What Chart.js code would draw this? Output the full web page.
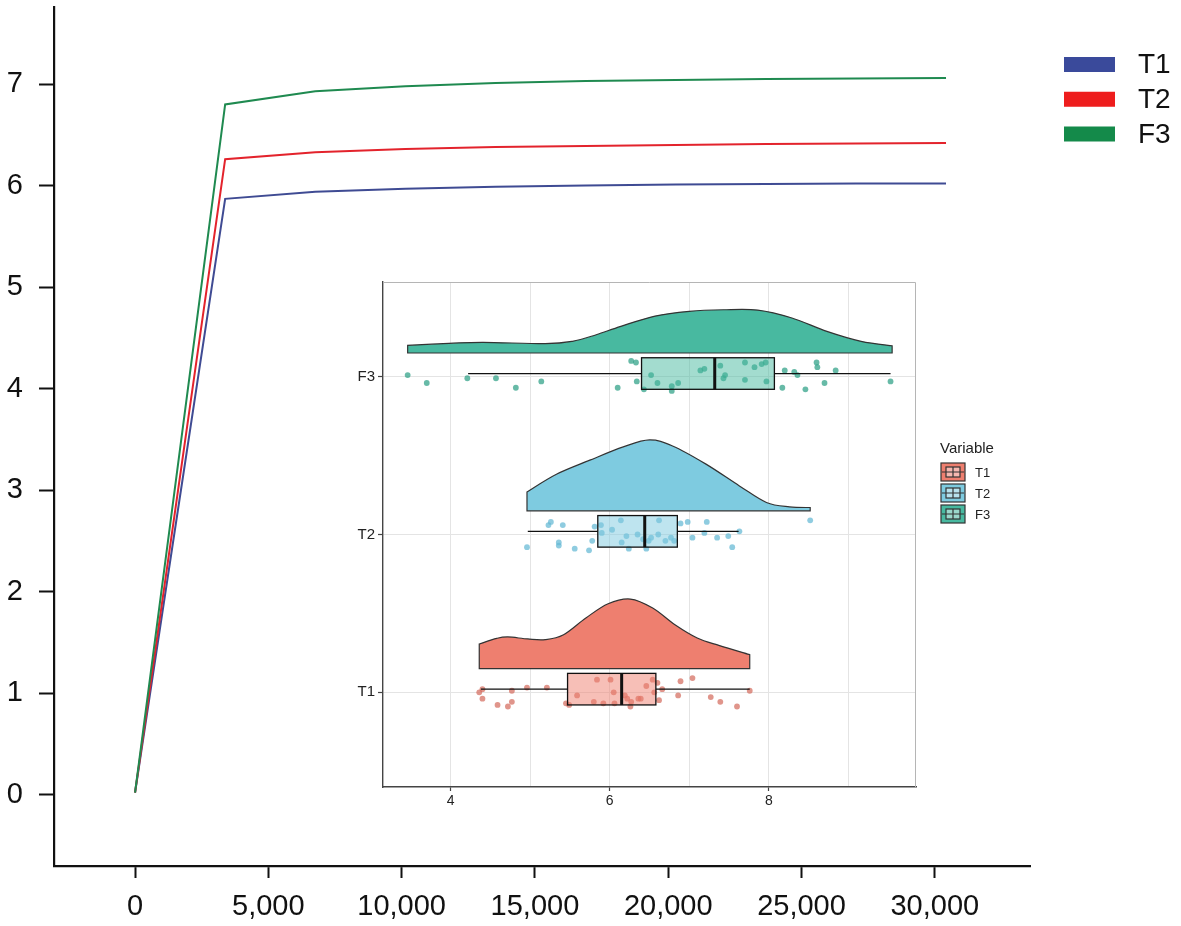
<!DOCTYPE html>
<html><head><meta charset="utf-8">
<script src="https://cdn.jsdelivr.net/npm/chart.js@4.4.1/dist/chart.umd.min.js"></script>
<style>
html,body{margin:0;padding:0;background:#fff;}
#wrap{position:relative;width:1181px;height:926px;overflow:hidden;}
#main{position:absolute;left:0;top:0;width:1181px;height:926px;}
#inset{position:absolute;left:330px;top:270px;width:720px;height:550px;}
</style></head><body>
<div id="wrap">
<canvas id="main" width="1181" height="926"></canvas>
<canvas id="inset" width="720" height="550"></canvas>
</div>
<script>
// ---------- main chart data (rarefaction curves) ----------
const seriesNames = ['T1', 'T2', 'F3'];
const sampleDepth = [0, 3380, 6760, 10140, 13520, 16900, 20280, 23660, 27040, 30420];
const t1Curve = [0.02, 5.87, 5.94, 5.97, 5.99, 6.00, 6.01, 6.015, 6.02, 6.02];
const t2Curve = [0.02, 6.26, 6.33, 6.36, 6.38, 6.39, 6.40, 6.41, 6.415, 6.42];
const f3Curve = [0.02, 6.80, 6.93, 6.98, 7.01, 7.03, 7.04, 7.05, 7.055, 7.06];
const xTickValues = [0, 5000, 10000, 15000, 20000, 25000, 30000];
const yTickValues = [0, 1, 2, 3, 4, 5, 6, 7];

// ---------- inset data (raincloud plot) ----------
const insetGroups = ['T1', 'T2', 'F3'];
const insetXTicks = [4, 5, 6, 7, 8, 9];
const insetXLabels = [4, 6, 8];
// box stats: [lower whisker, Q1, median, Q3, upper whisker]
const t1Box = [4.38, 5.47, 6.15, 6.58, 7.76];
const t2Box = [4.97, 5.85, 6.44, 6.85, 7.62];
const f3Box = [4.22, 6.40, 7.32, 8.07, 9.53];
// density outlines (value, height in category units)
const t1DensX = [4.36, 4.58, 4.72, 4.97, 5.19, 5.42, 5.70, 5.98, 6.26, 6.54, 6.82, 7.10, 7.38, 7.76];
const t1DensH = [0.156, 0.192, 0.201, 0.188, 0.184, 0.215, 0.321, 0.411, 0.441, 0.384, 0.278, 0.194, 0.146, 0.089];
const t2DensX = [4.96, 5.33, 5.75, 6.17, 6.50, 6.79, 7.21, 7.63, 7.97, 8.26, 8.52];
const t2DensH = [0.120, 0.232, 0.321, 0.405, 0.449, 0.411, 0.296, 0.158, 0.053, 0.025, 0.021];
const f3DensX = [3.46, 3.98, 4.41, 5.19, 5.53, 5.83, 6.14, 6.57, 7.00, 7.43, 7.86, 8.29, 8.73, 9.16, 9.55];
const f3DensH = [0.049, 0.061, 0.068, 0.059, 0.074, 0.116, 0.169, 0.234, 0.264, 0.274, 0.272, 0.222, 0.137, 0.074, 0.046];
// jittered raw points
const t1Values = [4.36,4.40,4.40,4.59,4.72,4.77,4.77,4.96,5.21,5.45,5.49,5.59,5.80,5.84,5.92,6.01,6.05,6.06,6.19,6.22,6.26,6.27,6.36,6.39,6.46,6.54,6.56,6.60,6.62,6.66,6.86,6.89,7.04,7.27,7.39,7.60,7.76];
const t1Jitter = [0.00,0.02,-0.04,-0.08,-0.09,-0.06,0.01,0.03,0.03,-0.07,-0.08,-0.02,-0.06,0.08,-0.07,0.08,0.00,-0.07,-0.02,-0.04,-0.09,-0.06,-0.04,-0.04,0.04,0.08,0.00,0.06,-0.05,0.02,-0.02,0.07,0.09,-0.03,-0.06,-0.09,0.01];
const t2Values = [4.96,5.23,5.26,5.36,5.36,5.41,5.56,5.74,5.78,5.81,5.89,5.90,6.03,6.14,6.15,6.21,6.24,6.35,6.42,6.46,6.49,6.52,6.61,6.62,6.70,6.77,6.81,6.89,6.98,7.04,7.19,7.22,7.35,7.49,7.54,7.63,8.52];
const t2Jitter = [-0.08,0.06,0.08,-0.05,-0.07,0.06,-0.09,-0.10,-0.04,0.05,0.06,0.01,0.03,0.09,-0.05,-0.01,-0.09,0.00,-0.03,-0.09,-0.04,-0.02,0.00,0.09,-0.04,-0.02,-0.04,0.07,0.08,-0.02,0.01,0.08,-0.02,-0.01,-0.08,0.02,0.09];
const f3Values = [3.46,3.70,4.21,4.57,4.82,5.14,6.10,6.27,6.33,6.34,6.43,6.52,6.60,6.78,6.78,6.86,7.14,7.19,7.39,7.43,7.45,7.70,7.70,7.82,7.91,7.96,7.97,8.17,8.20,8.32,8.36,8.46,8.60,8.61,8.70,8.84,9.53];
const f3Jitter = [0.01,-0.04,-0.01,-0.01,-0.07,-0.03,-0.07,0.10,0.09,-0.03,-0.08,0.01,-0.04,-0.06,-0.09,-0.04,0.04,0.05,0.07,-0.01,0.01,0.09,-0.02,0.06,0.08,0.09,-0.03,-0.07,0.04,0.03,0.01,-0.08,0.09,0.06,-0.04,0.04,-0.03];

// ---------- styles ----------
const FONT = '"Liberation Sans", Arial, sans-serif';
const lineColors = ['#3f4b93', '#e3232c', '#1f8a50'];
const legendColors = ['#3a4a9b', '#ee1d1d', '#148a4a'];
const densFill = ['#ee7f6f', '#7ecbe0', '#48b9a0'];
const boxFill = ['rgba(239,128,112,0.5)', 'rgba(126,202,224,0.5)', 'rgba(72,185,160,0.5)'];
const pointColors = ['rgba(212,108,94,0.72)', 'rgba(100,185,212,0.72)', 'rgba(45,160,133,0.72)'];

function noPadV(s) { s.paddingTop = 0; s.paddingBottom = 0; }
function noPadH(s) { s.paddingLeft = 0; s.paddingRight = 0; }

// ---------- main chart ----------
const curves = [t1Curve, t2Curve, f3Curve];
const mainLegend = {
  id: 'mainLegend',
  afterDraw(chart) {
    const ctx = chart.ctx, ca = chart.chartArea;
    ctx.save();
    ctx.font = '28px ' + FONT;
    ctx.textBaseline = 'middle';
    ctx.textAlign = 'left';
    seriesNames.forEach((n, i) => {
      const cy = 64.5 + i * 34.75;
      ctx.fillStyle = legendColors[i];
      ctx.fillRect(ca.right + 34, cy - 7.5, 51, 15);
      ctx.fillStyle = '#111';
      ctx.fillText(n, ca.right + 108, cy + 1);
    });
    ctx.restore();
  }
};

new Chart(document.getElementById('main'), {
  type: 'line',
  data: {
    datasets: seriesNames.map((n, i) => ({
      label: n,
      data: sampleDepth.map((x, j) => ({ x: x, y: curves[i][j] })),
      borderColor: lineColors[i],
      backgroundColor: legendColors[i],
      borderWidth: 2,
      pointRadius: 0,
      tension: 0,
      fill: false,
      order: 2 - i
    }))
  },
  options: {
    responsive: false,
    animation: false,
    devicePixelRatio: 1,
    layout: { padding: { left: 0, top: 7, right: 151, bottom: 0 } },
    plugins: { legend: { display: false }, tooltip: { enabled: false } },
    scales: {
      x: {
        type: 'linear', min: -3040, max: 33570,
        afterBuildTicks: s => { s.ticks = xTickValues.map(v => ({ value: v })); },
        afterFit: s => { s.height = 60; noPadH(s); },
        ticks: { font: { family: FONT, size: 29 }, color: '#111', padding: 12, maxRotation: 0, autoSkip: false,
          callback: v => Number(v).toLocaleString('en-US') },
        grid: { display: true, drawOnChartArea: false, drawTicks: true, tickLength: 12, tickColor: '#111', tickWidth: 2 },
        border: { display: true, color: '#111', width: 2.2 }
      },
      y: {
        type: 'linear', min: -0.704, max: 7.76,
        afterBuildTicks: s => { s.ticks = yTickValues.map(v => ({ value: v })); },
        afterFit: s => { s.width = 54; noPadV(s); },
        ticks: { font: { family: FONT, size: 29 }, color: '#111', padding: 16, autoSkip: false,
          callback: v => String(v) },
        grid: { display: true, drawOnChartArea: false, drawTicks: true, tickLength: 15, tickColor: '#111', tickWidth: 2 },
        border: { display: true, color: '#111', width: 2.2 }
      }
    }
  },
  plugins: [mainLegend]
});

// ---------- inset chart ----------
const boxes = [t1Box, t2Box, f3Box];
const densX = [t1DensX, t2DensX, f3DensX];
const densH = [t1DensH, t2DensH, f3DensH];
const ptValues = [t1Values, t2Values, f3Values];
const ptJitter = [t1Jitter, t2Jitter, f3Jitter];

function smoothPath(ctx, pts) {
  for (let i = 0; i < pts.length - 1; i++) {
    const p0 = pts[Math.max(i - 1, 0)], p1 = pts[i], p2 = pts[i + 1], p3 = pts[Math.min(i + 2, pts.length - 1)];
    const c1x = p1.x + (p2.x - p0.x) / 6, c1y = p1.y + (p2.y - p0.y) / 6;
    const c2x = p2.x - (p3.x - p1.x) / 6, c2y = p2.y - (p3.y - p1.y) / 6;
    ctx.bezierCurveTo(c1x, c1y, c2x, c2y, p2.x, p2.y);
  }
}

const raincloud = {
  id: 'raincloud',
  beforeDatasetsDraw(chart) {
    const ctx = chart.ctx, X = chart.scales.x, Y = chart.scales.y, ca = chart.chartArea;
    ctx.save();
    ctx.beginPath(); ctx.rect(ca.left, ca.top, ca.right - ca.left, ca.bottom - ca.top); ctx.clip();
    insetGroups.forEach((g, i) => {
      const cat = i + 1, base = cat + 0.15;
      const yb = Y.getPixelForValue(base);
      const pts = densX[i].map((v, j) => ({ x: X.getPixelForValue(v), y: Y.getPixelForValue(base + densH[i][j]) }));
      ctx.beginPath();
      ctx.moveTo(pts[0].x, yb);
      ctx.lineTo(pts[0].x, pts[0].y);
      smoothPath(ctx, pts);
      ctx.lineTo(pts[pts.length - 1].x, yb);
      ctx.closePath();
      ctx.fillStyle = densFill[i];
      ctx.fill();
      ctx.lineWidth = 1.2;
      ctx.strokeStyle = '#333';
      ctx.stroke();
    });
    ctx.restore();
  },
  afterDatasetsDraw(chart) {
    const ctx = chart.ctx, X = chart.scales.x, Y = chart.scales.y;
    ctx.save();
    insetGroups.forEach((g, i) => {
      const cat = i + 1, c = cat + 0.02;
      const b = boxes[i];
      const yc = Y.getPixelForValue(c), yt = Y.getPixelForValue(c + 0.1), ybt = Y.getPixelForValue(c - 0.1);
      const xw0 = X.getPixelForValue(b[0]), xq1 = X.getPixelForValue(b[1]), xm = X.getPixelForValue(b[2]),
            xq3 = X.getPixelForValue(b[3]), xw1 = X.getPixelForValue(b[4]);
      ctx.strokeStyle = '#111';
      ctx.lineWidth = 1.3;
      ctx.beginPath();
      ctx.moveTo(xw0, yc); ctx.lineTo(xq1, yc);
      ctx.moveTo(xq3, yc); ctx.lineTo(xw1, yc);
      ctx.stroke();
      ctx.fillStyle = boxFill[i];
      ctx.fillRect(xq1, yt, xq3 - xq1, ybt - yt);
      ctx.strokeRect(xq1, yt, xq3 - xq1, ybt - yt);
      ctx.lineWidth = 3;
      ctx.beginPath(); ctx.moveTo(xm, yt); ctx.lineTo(xm, ybt); ctx.stroke();
    });
    ctx.restore();
  },
  afterDraw(chart) {
    const ctx = chart.ctx, ca = chart.chartArea;
    ctx.save();
    // panel border (top/right)
    ctx.strokeStyle = '#b5b5b5';
    ctx.lineWidth = 1;
    ctx.beginPath();
    ctx.moveTo(ca.left, ca.top + 0.5); ctx.lineTo(ca.right - 0.5, ca.top + 0.5); ctx.lineTo(ca.right - 0.5, ca.bottom);
    ctx.stroke();
    // legend
    const lx = ca.right + 25;
    ctx.fillStyle = '#222';
    ctx.textBaseline = 'middle';
    ctx.textAlign = 'left';
    ctx.font = '15px ' + FONT;
    ctx.fillText('Variable', lx - 1, 179);
    insetGroups.forEach((g, i) => {
      const cy = 202 + i * 21, kx = lx, ky = cy - 9, kw = 24, kh = 18;
      ctx.fillStyle = densFill[i];
      ctx.fillRect(kx, ky, kw, kh);
      ctx.strokeStyle = '#333'; ctx.lineWidth = 1.2;
      ctx.strokeRect(kx, ky, kw, kh);
      ctx.fillStyle = 'rgba(255,255,255,0.45)';
      ctx.fillRect(kx + 5, ky + 4, kw - 10, kh - 8);
      ctx.strokeRect(kx + 5, ky + 4, kw - 10, kh - 8);
      ctx.beginPath();
      ctx.moveTo(kx + 1, cy); ctx.lineTo(kx + kw - 1, cy);
      ctx.moveTo(kx + kw / 2, ky + 4); ctx.lineTo(kx + kw / 2, ky + kh - 4);
      ctx.stroke();
      ctx.fillStyle = '#222';
      ctx.font = '13px ' + FONT;
      ctx.fillText(g, lx + 34, cy + 1);
    });
    ctx.restore();
  }
};

new Chart(document.getElementById('inset'), {
  type: 'scatter',
  data: {
    datasets: insetGroups.map((g, i) => ({
      label: g,
      data: ptValues[i].map((v, j) => ({ x: v, y: i + 1 + ptJitter[i][j] })),
      backgroundColor: pointColors[i],
      borderWidth: 0,
      pointRadius: 2.9,
      pointHoverRadius: 2.9
    }))
  },
  options: {
    responsive: false,
    animation: false,
    devicePixelRatio: 1,
    layout: { padding: { left: 0, top: 12, right: 134, bottom: 3 } },
    plugins: { legend: { display: false }, tooltip: { enabled: false } },
    scales: {
      x: {
        type: 'linear', min: 3.15, max: 9.85,
        afterBuildTicks: s => { s.ticks = insetXTicks.map(v => ({ value: v })); },
        afterFit: s => { s.height = 30; noPadH(s); },
        ticks: { font: { family: FONT, size: 14 }, color: '#222', padding: 2, maxRotation: 0, autoSkip: false,
          callback: v => insetXLabels.includes(v) ? String(v) : '' },
        grid: { display: true, color: '#e4e4e4', lineWidth: 1, drawTicks: true, tickLength: 4,
          tickColor: c => (c.tick && insetXLabels.includes(c.tick.value)) ? '#444' : 'rgba(0,0,0,0)', tickWidth: 1.2 },
        border: { display: true, color: '#444', width: 1.4 }
      },
      y: {
        type: 'linear', min: 0.4, max: 3.6,
        afterBuildTicks: s => { s.ticks = [1, 2, 3].map(v => ({ value: v })); },
        afterFit: s => { s.width = 53; noPadV(s); },
        ticks: { font: { family: FONT, size: 15 }, color: '#222', padding: 3, autoSkip: false,
          callback: v => insetGroups[v - 1] },
        grid: { display: true, color: '#e4e4e4', lineWidth: 1, drawTicks: true, tickLength: 5, tickColor: '#444', tickWidth: 1.2 },
        border: { display: true, color: '#444', width: 1.4 }
      }
    }
  },
  plugins: [raincloud]
});
</script>
</body></html>
